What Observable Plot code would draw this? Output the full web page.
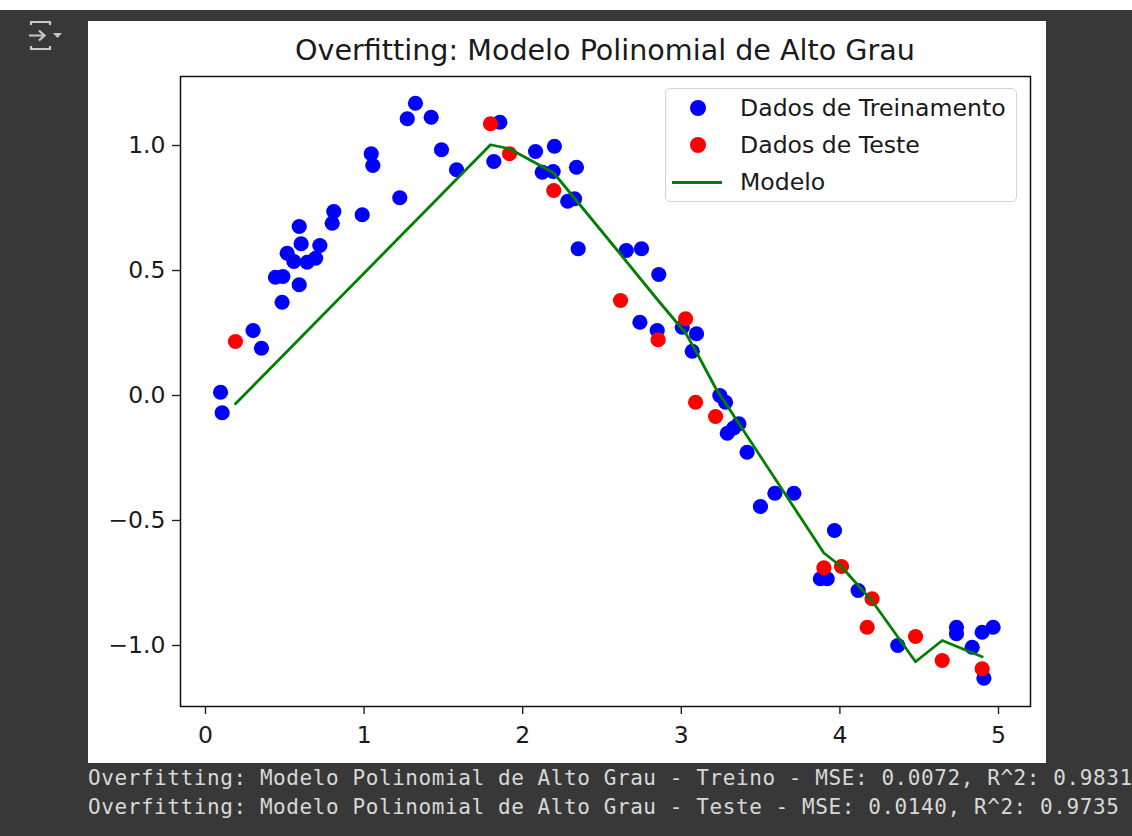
<!DOCTYPE html>
<html>
<head>
<meta charset="utf-8">
<script src="https://cdn.jsdelivr.net/npm/d3@7"></script>
<script src="https://cdn.jsdelivr.net/npm/@observablehq/plot@0.6"></script>
<style>
  html, body { margin: 0; padding: 0; background: #ffffff; }
  #page { position: relative; width: 1132px; height: 836px; overflow: hidden; background: #ffffff; font-family: "DejaVu Sans", sans-serif; }
  #dark { position: absolute; left: 0; top: 10px; width: 1132px; height: 826px; background: #383838; }
  #fig { position: absolute; left: 88px; top: 21px; width: 958px; height: 742px; background: #ffffff; }
  #title { position: absolute; left: 180px; width: 850px; top: 34px; text-align: center; font-size: 28.6px; line-height: 32px; color: #1a1a1a; font-family: "DejaVu Sans", sans-serif; }
  #legend { position: absolute; left: 665px; top: 88px; width: 350px; height: 112px; border: 1px solid #d4d4d4; border-radius: 5px; background: rgba(255,255,255,0.85); }
  .lg-row { position: absolute; left: 0; width: 350px; height: 34px; }
  .lg-dot { position: absolute; left: 24px; top: 9px; width: 16px; height: 16px; border-radius: 50%; }
  .lg-line { position: absolute; left: 6px; top: 16px; width: 50px; height: 3px; background: #008000; }
  .lg-text { position: absolute; left: 74px; top: 0; line-height: 34px; font-size: 23.6px; color: #1a1a1a; white-space: nowrap; }
  #out { position: absolute; left: 88px; top: 764px; margin: 0; font-family: "DejaVu Sans Mono", monospace; font-size: 21px; letter-spacing: 0.58px; line-height: 28.5px; color: #d8d8d8; white-space: pre; }
  #icon { position: absolute; left: 26px; top: 18px; }
</style>
</head>
<body>
<div id="page">
  <div id="dark"></div>
  <svg id="icon" width="44" height="36" viewBox="0 0 44 36">
    <path d="M5 7 L5 4 L24 4 L24 7" fill="none" stroke="#c8c8c8" stroke-width="2.2"/>
    <path d="M5 28 L5 31 L24 31 L24 28" fill="none" stroke="#c8c8c8" stroke-width="2.2"/>
    <path d="M3 17.5 L18 17.5 M13 12.5 L18.5 17.5 L13 22.5" fill="none" stroke="#c8c8c8" stroke-width="2.2"/>
    <path d="M27 15 L36 15 L31.5 20 Z" fill="#c8c8c8"/>
  </svg>
  <div id="fig"></div>
  <div id="title"></div>
  <div id="legend"></div>
  <pre id="out"></pre>
</div>
<script>
// ---- Data ----
const chartTitle = "Overfitting: Modelo Polinomial de Alto Grau";
const legendLabels = ["Dados de Treinamento", "Dados de Teste", "Modelo"];
const outputLines = [
  "Overfitting: Modelo Polinomial de Alto Grau - Treino - MSE: 0.0072, R^2: 0.9831",
  "Overfitting: Modelo Polinomial de Alto Grau - Teste - MSE: 0.0140, R^2: 0.9735"
];

const trainX = [0.095, 0.105, 0.300, 0.353, 0.441, 0.488, 0.483, 0.515, 0.557, 0.591,
  0.603, 0.591, 0.641, 0.694, 0.721, 0.799, 0.809, 0.988, 1.045, 1.055,
  1.225, 1.272, 1.324, 1.423, 1.488, 1.583, 1.818, 1.856, 2.081, 2.200,
  2.123, 2.192, 2.339, 2.284, 2.327, 2.350, 2.653, 2.749, 2.858, 2.739,
  2.848, 3.006, 3.096, 3.069, 3.243, 3.279, 3.290, 3.363, 3.330, 3.415,
  3.499, 3.590, 3.710, 3.966, 3.877, 3.920, 4.115, 4.365, 4.735, 4.735,
  4.834, 4.897, 4.966, 4.908];
const trainY = [0.013, -0.069, 0.260, 0.189, 0.473, 0.476, 0.373, 0.569, 0.536, 0.676,
  0.607, 0.443, 0.533, 0.549, 0.600, 0.689, 0.736, 0.723, 0.967, 0.920,
  0.791, 1.107, 1.169, 1.113, 0.983, 0.903, 0.936, 1.093, 0.976, 0.997,
  0.893, 0.896, 0.913, 0.777, 0.787, 0.587, 0.580, 0.587, 0.484, 0.293,
  0.260, 0.273, 0.247, 0.177, 0.000, -0.027, -0.151, -0.113, -0.130, -0.227,
  -0.444, -0.391, -0.391, -0.540, -0.733, -0.733, -0.780, -1.000, -0.927, -0.953,
  -1.007, -0.947, -0.927, -1.131];

const testX = [0.189, 1.797, 1.917, 2.196, 2.617, 2.854, 3.027, 3.090, 3.216, 3.899,
  4.010, 4.172, 4.203, 4.477, 4.645, 4.897];
const testY = [0.216, 1.087, 0.967, 0.820, 0.380, 0.223, 0.307, -0.027, -0.084, -0.689,
  -0.684, -0.927, -0.813, -0.964, -1.060, -1.093];

const modelX = [0.189, 1.797, 1.917, 2.196, 2.617, 2.854, 3.027, 3.090, 3.216, 3.899,
  4.010, 4.172, 4.203, 4.477, 4.645, 4.897];
const modelY = [-0.033, 1.003, 0.987, 0.890, 0.565, 0.380, 0.250, 0.180, 0.030, -0.630,
  -0.685, -0.800, -0.822, -1.065, -0.980, -1.045];

const xTicks = [0, 1, 2, 3, 4, 5];
const yTicks = [-1.0, -0.5, 0.0, 0.5, 1.0];

// ---- Build ----
const train = trainX.map((x, i) => ({x, y: trainY[i]}));
const test = testX.map((x, i) => ({x, y: testY[i]}));
const model = modelX.map((x, i) => ({x, y: modelY[i]}));
const fmtY = d => (d < 0 ? "\u2212" : "") + Math.abs(d).toFixed(1);

const chart = Plot.plot({
  width: 958,
  height: 742,
  marginTop: 55,
  marginRight: 16,
  marginBottom: 57,
  marginLeft: 92,
  x: {domain: [-0.1576, 5.2018]},
  y: {domain: [-1.244, 1.276]},
  style: {fontFamily: "DejaVu Sans", fontSize: "23.5px", color: "#1a1a1a", background: "white"},
  marks: [
    Plot.axisX(xTicks, {tickSize: 8, tickPadding: 12, fontSize: 23.5, strokeWidth: 1.4, stroke: "#222", tickFormat: d => String(d), label: null}),
    Plot.axisY(yTicks, {tickSize: 8, tickPadding: 7, fontSize: 23.5, strokeWidth: 1.4, stroke: "#222", tickFormat: fmtY, label: null}),
    Plot.dot(train, {x: "x", y: "y", r: 7.6, fill: "#0000ff"}),
    Plot.dot(test, {x: "x", y: "y", r: 7.6, fill: "#ff0000"}),
    Plot.line(model, {x: "x", y: "y", stroke: "#008000", strokeWidth: 2.8}),
    Plot.frame({stroke: "#111", strokeWidth: 1.5})
  ]
});
document.getElementById("fig").appendChild(chart);

document.getElementById("title").textContent = chartTitle;
document.getElementById("out").textContent = outputLines.join("\n");

const legend = document.getElementById("legend");
const legendKinds = [{type: "dot", color: "#0000ff"}, {type: "dot", color: "#ff0000"}, {type: "line", color: "#008000"}];
const rowTops = [2, 39, 76];
legendLabels.forEach((label, i) => {
  const row = document.createElement("div");
  row.className = "lg-row";
  row.style.top = rowTops[i] + "px";
  const sym = document.createElement("div");
  if (legendKinds[i].type === "dot") {
    sym.className = "lg-dot";
    sym.style.background = legendKinds[i].color;
  } else {
    sym.className = "lg-line";
    sym.style.background = legendKinds[i].color;
  }
  row.appendChild(sym);
  const t = document.createElement("div");
  t.className = "lg-text";
  t.textContent = label;
  row.appendChild(t);
  legend.appendChild(row);
});
</script>
</body>
</html>
